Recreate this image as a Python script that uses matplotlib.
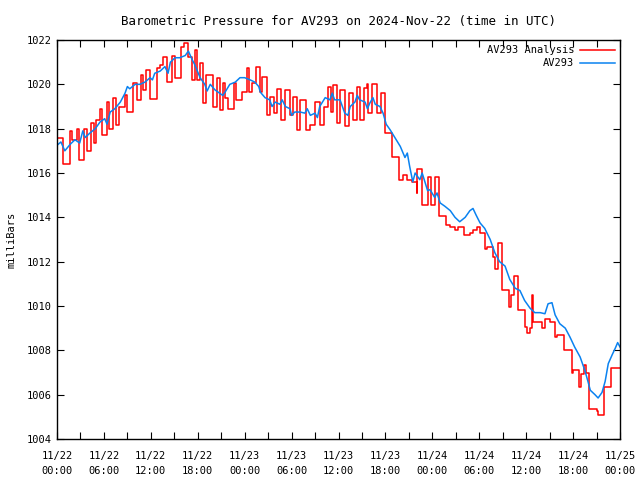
import matplotlib
matplotlib.use('Agg')
import numpy as np
import matplotlib.pyplot as plt
from matplotlib.ticker import MultipleLocator

# hours since 11/22 00:00 UTC
an_hours = [0.0, 0.77, 1.7, 1.9, 2.5, 2.8, 3.4, 3.8, 4.3, 4.7, 5.0, 5.5, 5.8, 6.4, 6.7,
            7.2, 7.6, 7.9, 8.7, 9.0, 9.7, 10.2, 10.7, 11.0, 11.4, 11.9, 12.8, 13.2,
            13.6, 14.1, 14.7, 15.1, 15.8, 16.2, 16.8, 17.3, 17.7, 17.9, 18.3, 18.7,
            19.1, 20.0, 20.4, 20.8, 21.2, 21.5, 21.9, 22.6, 22.9, 23.6, 24.3, 24.6,
            24.9, 25.5, 25.9, 26.2, 26.8, 27.2, 27.7, 28.1, 28.7, 29.2, 29.8, 30.2,
            30.7, 31.1, 31.8, 32.4, 33.0, 33.6, 34.1, 34.7, 35.0, 35.3, 35.8, 36.2,
            36.8, 37.4, 37.9, 38.4, 38.8, 39.3, 39.6, 39.8, 40.3, 40.9, 41.4, 41.9,
            42.8, 43.8, 44.3, 44.8, 45.4, 46.0, 46.1, 46.7, 47.4, 47.8, 48.4, 48.9,
            49.8, 50.3, 50.9, 51.3, 52.0, 52.8, 53.2, 53.7, 54.1, 54.7, 55.0, 55.8,
            56.0, 56.4, 56.9, 57.8, 58.1, 58.4, 58.9, 59.8, 60.1, 60.5, 60.8, 60.9,
            62.0, 62.4, 63.0, 63.7, 64.0, 64.8, 65.8, 66.0, 66.8, 67.0, 67.4, 67.7,
            68.0, 69.0, 69.2, 69.9, 70.9, 72.0]
an_press = [1017.6, 1016.4, 1017.9, 1017.5, 1018.0, 1016.6, 1018.0, 1017.0, 1018.25,
            1017.35, 1018.4, 1018.9, 1017.7, 1019.2, 1018.0, 1019.4, 1018.15, 1019.0,
            1019.5, 1018.75, 1020.05, 1019.3, 1020.4, 1019.75, 1020.65, 1019.35,
            1020.75, 1020.85, 1021.25, 1020.1, 1021.3, 1020.3, 1021.7, 1021.85,
            1021.25, 1020.2, 1021.55, 1020.2, 1020.95, 1019.15, 1020.4, 1019.0,
            1020.3, 1018.85, 1020.05, 1019.4, 1018.9, 1020.05, 1019.3, 1019.65,
            1020.75, 1019.65, 1020.05, 1020.8, 1019.65, 1020.35, 1018.6, 1019.45,
            1018.7, 1019.8, 1018.4, 1019.75, 1018.6, 1019.45, 1017.95, 1019.3,
            1017.95, 1018.15, 1019.2, 1018.15, 1019.0, 1019.9, 1018.75, 1019.95,
            1018.25, 1019.75, 1018.1, 1019.6, 1018.4, 1019.9, 1018.4, 1019.85,
            1020.0, 1018.7, 1020.0, 1018.7, 1019.6, 1017.8, 1016.7, 1015.7, 1015.9,
            1015.7, 1015.6, 1015.1, 1016.2, 1014.55, 1015.8, 1014.55, 1015.8,
            1014.05, 1013.65, 1013.55, 1013.45, 1013.55, 1013.2, 1013.3, 1013.45,
            1013.55, 1013.3, 1012.55, 1012.65, 1012.2, 1011.65, 1012.85, 1010.7,
            1009.95, 1010.5, 1011.35, 1009.8, 1009.05, 1008.8, 1009.0, 1010.5,
            1009.3, 1009.0, 1009.4, 1009.3, 1008.6, 1008.7, 1008.0, 1007.0, 1007.1,
            1006.35, 1006.95, 1007.35, 1007.0, 1005.35, 1005.25, 1005.1, 1006.35,
            1007.2, 1007.2]

obs_hours = [0.0, 0.5, 1.0, 1.7, 2.3, 2.9, 3.3, 3.6, 4.2, 4.9, 5.5, 6.1, 6.4, 6.8,
             7.4, 8.1, 8.7, 9.0, 9.3, 10.0, 10.6, 11.25, 11.9, 12.2, 12.5, 13.2, 13.8,
             14.2, 14.5, 15.1, 15.7, 16.4, 16.8, 17.3, 17.6, 18.3, 18.9, 19.2, 19.6,
             20.2, 20.8, 21.2, 21.5, 22.1, 22.8, 23.4, 24.0, 24.7, 25.3, 25.8, 26.0,
             26.6, 27.2, 27.5, 27.9, 28.5, 28.8, 29.2, 29.8, 30.0, 30.4, 31.1, 31.7,
             32.0, 32.4, 33.0, 33.3, 33.6, 34.3, 34.9, 35.2, 35.5, 36.2, 36.8, 37.2,
             37.5, 38.1, 38.4, 38.7, 39.4, 39.7, 40.0, 40.4, 40.7, 41.3, 41.7, 42.1,
             42.6, 43.2, 43.9, 44.5, 44.8, 45.1, 45.5, 45.8, 46.4, 46.7, 47.1, 47.4,
             47.7, 48.3, 48.6, 49.0, 49.6, 50.3, 50.9, 51.5, 52.2, 52.8, 53.2, 53.6,
             54.1, 54.7, 55.4, 56.0, 56.6, 57.3, 57.9, 58.6, 59.2, 59.8, 60.5, 61.1,
             61.8, 62.4, 62.8, 63.3, 63.7, 64.3, 65.0, 65.6, 66.2, 66.9, 67.5, 67.9,
             68.2, 68.8, 69.2, 69.7, 70.1, 70.5, 71.0, 71.4, 71.7, 72.0]
obs_press = [1017.25, 1017.4, 1017.0, 1017.3, 1017.5, 1017.35, 1017.9, 1017.6,
             1017.8, 1018.0, 1018.3, 1018.45, 1018.2, 1018.75, 1018.9, 1019.2,
             1019.6, 1019.9, 1019.8, 1020.0, 1020.0, 1020.1, 1020.3, 1020.2, 1020.5,
             1020.6, 1020.8, 1020.5, 1021.0, 1021.2, 1021.2, 1021.3, 1021.5, 1021.1,
             1020.9, 1020.3, 1020.0, 1019.7, 1020.0, 1019.75, 1019.6, 1019.5,
             1019.65, 1020.0, 1020.1, 1020.3, 1020.3, 1020.2, 1020.1, 1019.9,
             1019.65, 1019.4, 1019.3, 1019.0, 1019.2, 1019.1, 1019.3, 1019.0,
             1018.9, 1018.6, 1018.75, 1018.75, 1018.7, 1018.9, 1018.6, 1018.7,
             1018.5, 1019.0, 1019.4, 1019.3, 1019.6, 1019.3, 1019.3, 1018.7, 1018.6,
             1019.0, 1019.2, 1019.5, 1019.3, 1019.2, 1018.9, 1019.15, 1019.4,
             1019.1, 1019.0, 1018.7, 1018.2, 1017.95, 1017.6, 1017.2, 1016.7,
             1016.9, 1016.3, 1015.6, 1016.0, 1015.7, 1016.0, 1015.55, 1015.2,
             1015.25, 1014.9, 1015.1, 1014.65, 1014.5, 1014.3, 1014.0, 1013.8,
             1014.0, 1014.3, 1014.4, 1014.1, 1013.75, 1013.5, 1013.0, 1012.4,
             1012.0, 1011.8, 1011.2, 1010.8, 1010.7, 1010.25, 1009.9, 1009.7,
             1009.7, 1009.65, 1010.1, 1010.15, 1009.6, 1009.2, 1009.0, 1008.6,
             1008.15, 1007.7, 1007.1, 1006.6, 1006.2, 1006.0, 1005.85, 1006.1,
             1006.6, 1007.4, 1007.8, 1008.1, 1008.35, 1008.15]

tick_hours = list(range(0, 73, 6))
tick_labels = ['11/22\n00:00', '11/22\n06:00', '11/22\n12:00', '11/22\n18:00',
               '11/23\n00:00', '11/23\n06:00', '11/23\n12:00', '11/23\n18:00',
               '11/24\n00:00', '11/24\n06:00', '11/24\n12:00', '11/24\n18:00',
               '11/25\n00:00']

plt.rcParams['font.family'] = 'DejaVu Sans Mono'
plt.rcParams['font.size'] = 7.5

fig = plt.figure(figsize=(6.4, 4.8), dpi=100)
ax = fig.add_axes([57/640, 1-439/480, 563/640, 399/480])

ax.plot(an_hours, an_press, color='#ff0000', lw=1.1, drawstyle='steps-post',
        label='AV293 Analysis')
ax.plot(obs_hours, obs_press, color='#0a82f0', lw=1.1, label='AV293')

ax.set_xlim(0, 72)
ax.set_ylim(1004, 1022)
ax.set_xticks(tick_hours)
ax.set_xticklabels(tick_labels, linespacing=1.6)
ax.xaxis.set_minor_locator(MultipleLocator(3))
ax.set_yticks(range(1004, 1023, 2))
ax.tick_params(which='both', direction='in', top=True, right=True, length=5, width=0.8,
               pad=4)
ax.tick_params(axis='x', pad=9)
for s in ax.spines.values():
    s.set_linewidth(1)

ax.set_ylabel('milliBars', labelpad=7)
ax.set_title('Barometric Pressure for AV293 on 2024-Nov-22 (time in UTC)', pad=11)
ax.legend(loc='upper right', frameon=False, markerfirst=False, handlelength=3.3,
          borderaxespad=0.1, labelspacing=0.3, handletextpad=0.6)

plt.savefig('out.png', dpi=100)
